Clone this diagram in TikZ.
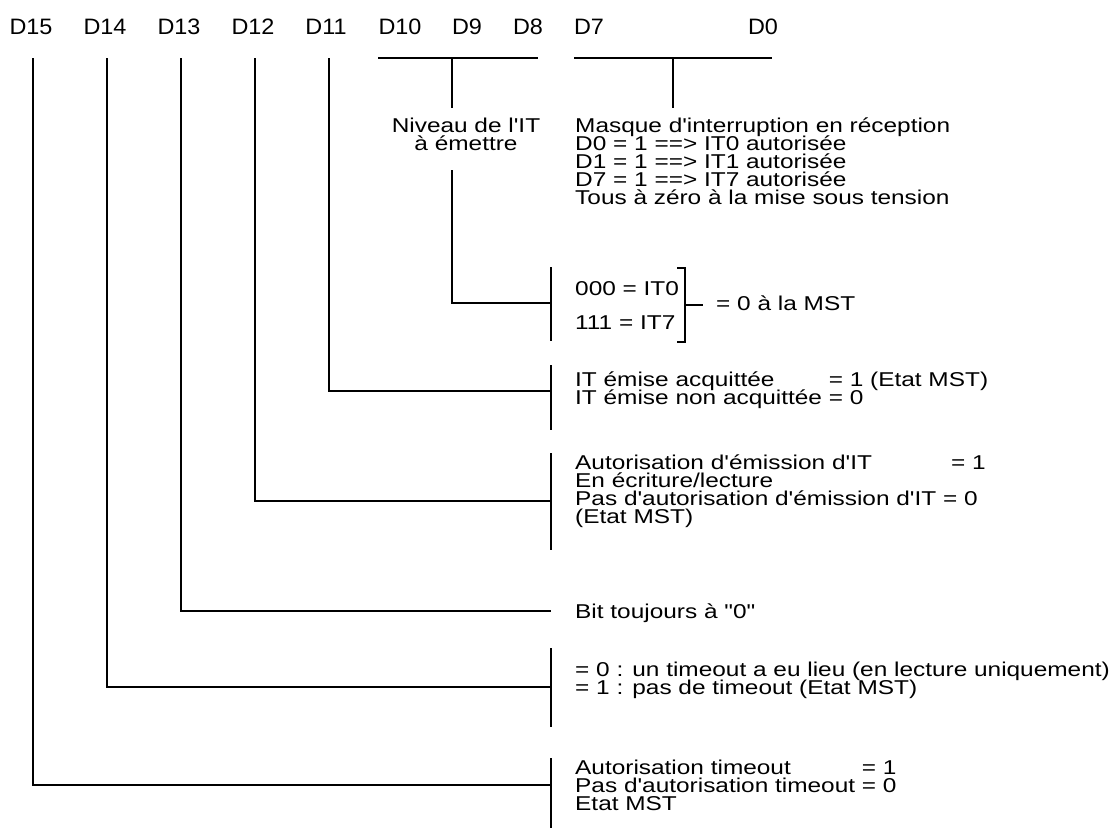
\documentclass[tikz,border=0pt]{standalone}
\usepackage{fontspec}
\newfontfamily\bodyfont{Liberation Sans}[FakeStretch=1.22]
\newfontfamily\headfont{Liberation Sans}[FakeStretch=1.05]
\newlength\Lw
\newcommand\bodyset{\bodyfont\fontsize{20}{18}\selectfont\lineskiplimit-30pt\relax}
\tikzset{
  body/.style={font={\bodyset}, inner sep=0pt, anchor=base west, align=left},
  head/.style={font={\headfont\fontsize{22.3}{26}\selectfont}, inner sep=0pt, anchor=base},
  wire/.style={line width=1.3pt, line join=miter}
}
\begin{document}
\begin{tikzpicture}[x=1pt,y=-1pt]
\useasboundingbox (0,0) rectangle (1115,828);
% header labels
\foreach \n/\x in {15/31,14/105,13/179,12/253,11/326,10/400,9/467,8/528,7/589,0/763}
  \node[head] (d\n) at (\x,34) {D\n};
% text blocks (base anchor = baseline of the last line)
\node[body] (masque) at (575,204) {Masque d'interruption en réception\\D0 = 1 ==> IT0 autorisée\\D1 = 1 ==> IT1 autorisée\\D7 = 1 ==> IT7 autorisée\\Tous à zéro à la mise sous tension};
\node[body, anchor=base, align=center] (niveau) at (466,150) {Niveau de l'IT\\à émettre};
\node[body] (it0) at (575,295) {000 = IT0};
\node[body] (it7) at (575,329) {111 = IT7};
\node[body] (mst) at (716,310) {= 0 à la MST};
\node[body] (ack) at (575,404) {\settowidth{\Lw}{IT émise non acquittée }\makebox[\Lw][l]{IT émise acquittée}= 1 (Etat MST)\\IT émise non acquittée = 0};
\node[body] (emi) at (575,523) {\settowidth{\Lw}{Pas d'autorisation d'émission d'IT }\addtolength{\Lw}{8pt}\makebox[\Lw][l]{Autorisation d'émission d'IT}= 1\\En écriture/lecture\\Pas d'autorisation d'émission d'IT = 0\\(Etat MST)};
\node[body] (bit) at (575,618) {Bit toujours à "0"};
\node[body] (tmo) at (575,694) {= 0 : un timeout a eu lieu (en lecture uniquement)\\= 1 : pas de timeout (Etat MST)};
\node[body] (aut) at (575,810) {\settowidth{\Lw}{Pas d'autorisation timeout }\makebox[\Lw][l]{Autorisation timeout}= 1\\Pas d'autorisation timeout = 0\\Etat MST};
% coordinates
\coordinate (a10) at (378,58); \coordinate (a8) at (538,58);
\coordinate (a7) at (574,58); \coordinate (a0) at (772,58);
% brackets over bit groups
\draw[wire] (a10) -- (a8);
\draw[wire] (452,58) -- (452,108);
\draw[wire] (a7) -- (a0);
\draw[wire] (673,58) -- (673,108);
% level of IT
\draw[wire] (452,170) |- (551,303);
\draw[wire] (551,267) -- (551,341);
\draw[wire] (677,268) -- (685,268) -- (685,342) -- (677,342);
\draw[wire] (685,305) -- (703,305);
% D11
\draw[wire] (329,58) |- (551,391);
\draw[wire] (551,365) -- (551,430);
% D12
\draw[wire] (255,58) |- (551,501);
\draw[wire] (551,453) -- (551,550);
% D13
\draw[wire] (181,58) |- (551,611);
% D14
\draw[wire] (107,58) |- (551,687);
\draw[wire] (551,648) -- (551,727);
% D15
\draw[wire] (33,58) |- (551,785);
\draw[wire] (551,758) -- (551,828);
\end{tikzpicture}
\end{document}
